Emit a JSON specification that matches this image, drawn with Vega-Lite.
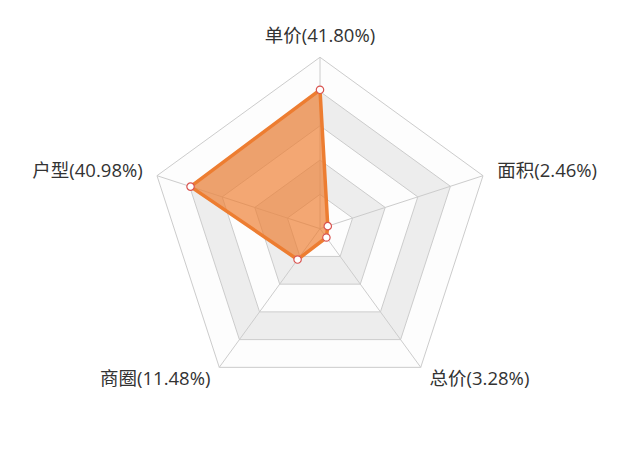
{
  "$schema": "https://vega.github.io/schema/vega-lite/v6.json",
  "width": 640,
  "height": 457,
  "padding": 0,
  "autosize": {"type": "none"},
  "background": "white",
  "config": {"view": {"stroke": null}},
  "datasets": {
    "scores": [
      {"name": "单价", "value": 41.80},
      {"name": "面积", "value": 2.46},
      {"name": "总价", "value": 3.28},
      {"name": "商圈", "value": 11.48},
      {"name": "户型", "value": 40.98}
    ],
    "rings": [
      {"level": 1.0, "name": "单价"}, {"level": 1.0, "name": "面积"}, {"level": 1.0, "name": "总价"}, {"level": 1.0, "name": "商圈"}, {"level": 1.0, "name": "户型"},
      {"level": 0.8, "name": "单价"}, {"level": 0.8, "name": "面积"}, {"level": 0.8, "name": "总价"}, {"level": 0.8, "name": "商圈"}, {"level": 0.8, "name": "户型"},
      {"level": 0.6, "name": "单价"}, {"level": 0.6, "name": "面积"}, {"level": 0.6, "name": "总价"}, {"level": 0.6, "name": "商圈"}, {"level": 0.6, "name": "户型"},
      {"level": 0.4, "name": "单价"}, {"level": 0.4, "name": "面积"}, {"level": 0.4, "name": "总价"}, {"level": 0.4, "name": "商圈"}, {"level": 0.4, "name": "户型"},
      {"level": 0.2, "name": "单价"}, {"level": 0.2, "name": "面积"}, {"level": 0.2, "name": "总价"}, {"level": 0.2, "name": "商圈"}, {"level": 0.2, "name": "户型"}
    ]
  },
  "encoding": {
    "x": {"field": "x", "type": "quantitative", "axis": null,
          "scale": {"domain": [-1.867, 1.867], "nice": false, "zero": false}},
    "y": {"field": "y", "type": "quantitative", "axis": null,
          "scale": {"domain": [-1.332, 1.334], "nice": false, "zero": false}}
  },
  "layer": [
    {
      "data": {"name": "rings"},
      "transform": [
        {"calculate": "indexof(['单价','面积','总价','商圈','户型'], datum.name)", "as": "k"},
        {"calculate": "datum.level * sin(datum.k * 2 * PI / 5)", "as": "x"},
        {"calculate": "datum.level * cos(datum.k * 2 * PI / 5)", "as": "y"}
      ],
      "encoding": {"order": {"field": "k", "type": "quantitative"}},
      "layer": [
        {"transform": [{"filter": "datum.level == 1"}],
         "mark": {"type": "line", "interpolate": "linear-closed", "fill": "#fdfdfd", "stroke": "#cccccc", "strokeWidth": 1}},
        {"transform": [{"filter": "datum.level == 0.8"}],
         "mark": {"type": "line", "interpolate": "linear-closed", "fill": "#ededed", "stroke": "#cccccc", "strokeWidth": 1}},
        {"transform": [{"filter": "datum.level == 0.6"}],
         "mark": {"type": "line", "interpolate": "linear-closed", "fill": "#fdfdfd", "stroke": "#cccccc", "strokeWidth": 1}},
        {"transform": [{"filter": "datum.level == 0.4"}],
         "mark": {"type": "line", "interpolate": "linear-closed", "fill": "#ededed", "stroke": "#cccccc", "strokeWidth": 1}},
        {"transform": [{"filter": "datum.level == 0.2"}],
         "mark": {"type": "line", "interpolate": "linear-closed", "fill": "#fdfdfd", "stroke": "#cccccc", "strokeWidth": 1}}
      ]
    },
    {
      "data": {"name": "scores"},
      "transform": [
        {"calculate": "indexof(['单价','面积','总价','商圈','户型'], datum.name)", "as": "k"},
        {"calculate": "datum.value / 51.6", "as": "r"},
        {"calculate": "datum.r * sin(datum.k * 2 * PI / 5)", "as": "x"},
        {"calculate": "datum.r * cos(datum.k * 2 * PI / 5)", "as": "y"},
        {"calculate": "sin(datum.k * 2 * PI / 5)", "as": "xe"},
        {"calculate": "cos(datum.k * 2 * PI / 5)", "as": "ye"},
        {"calculate": "1.0875 * datum.xe", "as": "xl"},
        {"calculate": "1.0875 * datum.ye", "as": "yl"},
        {"calculate": "datum.name + '(' + format(datum.value, '.2f') + '%)'", "as": "label"}
      ],
      "layer": [
        {
          "mark": {"type": "rule", "stroke": "#cccccc", "strokeWidth": 1},
          "encoding": {
            "x": {"datum": 0, "type": "quantitative"},
            "y": {"datum": 0, "type": "quantitative"},
            "x2": {"field": "xe"},
            "y2": {"field": "ye"}
          }
        },
        {
          "mark": {"type": "line", "interpolate": "linear-closed", "stroke": "#ed7d31", "strokeWidth": 3.5,
                   "fill": "#ed7d31", "fillOpacity": 0.68, "strokeJoin": "round"},
          "encoding": {"order": {"field": "k", "type": "quantitative"}}
        },
        {
          "mark": {"type": "point", "filled": true, "fill": "white", "stroke": "#d9534f", "strokeWidth": 1.2, "size": 55, "opacity": 1}
        },
        {
          "mark": {"type": "text", "font": "Open Sans, Noto Sans CJK SC", "fontSize": 18.5, "fill": "#333333",
                   "align": {"expr": "datum.xe > 0.1 ? 'left' : (datum.xe < -0.1 ? 'right' : 'center')"},
                   "baseline": {"expr": "datum.ye > 0.9 ? 'alphabetic' : 'middle'"}},
          "encoding": {
            "x": {"field": "xl", "type": "quantitative"},
            "y": {"field": "yl", "type": "quantitative"},
            "text": {"field": "label"}
          }
        }
      ]
    }
  ]
}
